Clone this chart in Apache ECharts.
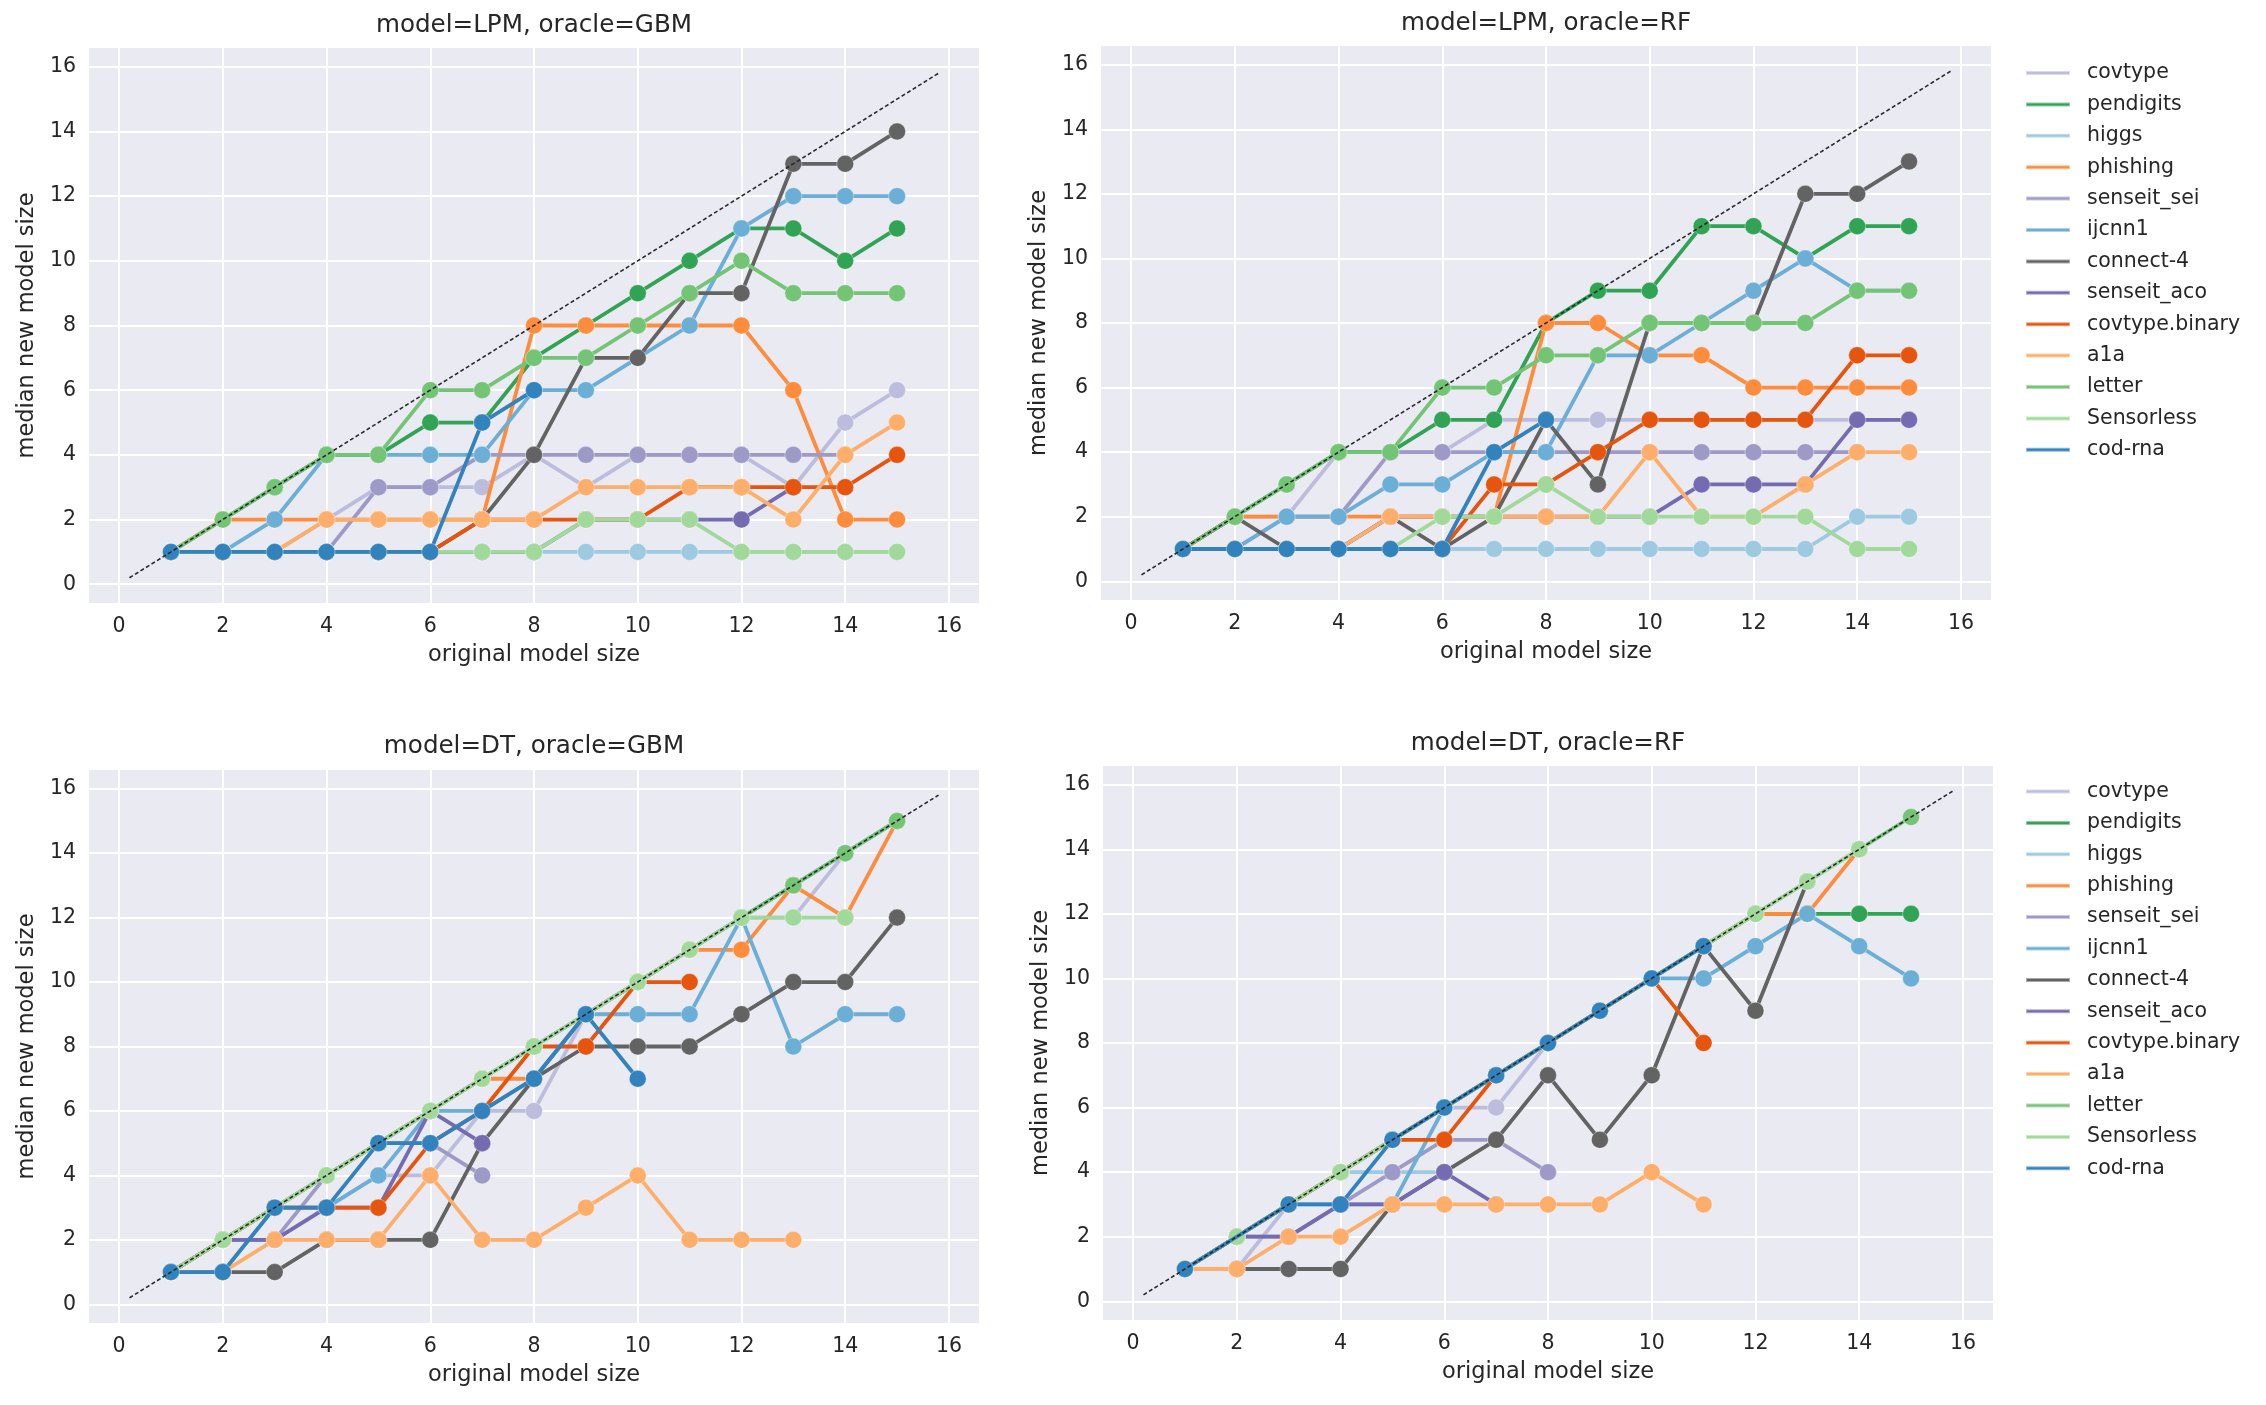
<!DOCTYPE html>
<html><head><meta charset="utf-8">
<script src="https://cdn.jsdelivr.net/npm/echarts@6/dist/echarts.min.js"></script>
<style>html,body{margin:0;padding:0;background:#fff}#c{width:2266px;height:1405px}</style>
</head><body><div id="c"></div>
<script>
// ---------- labels, categories, ticks ----------
const datasetNames = ['covtype','pendigits','higgs','phishing','senseit_sei','ijcnn1','connect-4','senseit_aco','covtype.binary','a1a','letter','Sensorless','cod-rna'];
const datasetColors = ['#bcbddc','#31a354','#9ecae1','#fd8d3c','#9e9ac8','#6baed6','#636363','#756bb1','#e6550d','#fdae6b','#74c476','#a1d99b','#3182bd'];
const originalSizes = [1,2,3,4,5,6,7,8,9,10,11,12,13,14,15];
const tickValues = [0,2,4,6,8,10,12,14,16];
const diagonal = [0.2, 15.8];
const panelTitles = ['model=LPM, oracle=GBM','model=LPM, oracle=RF','model=DT, oracle=GBM','model=DT, oracle=RF'];

// ---------- panel 1: model=LPM, oracle=GBM ----------
const lpmGbm_covtype       = [1,1,1,2,3,3,3,4,3,4,4,4,3,5,6];
const lpmGbm_pendigits     = [1,2,3,4,4,5,5,7,8,9,10,11,11,10,11];
const lpmGbm_higgs         = [1,1,1,1,1,1,1,1,1,1,1,1,1,1,1];
const lpmGbm_phishing      = [1,2,2,2,2,2,2,8,8,8,8,8,6,2,2];
const lpmGbm_senseit_sei   = [1,1,1,1,3,3,4,4,4,4,4,4,4,4];
const lpmGbm_ijcnn1        = [1,1,2,4,4,4,4,6,6,7,8,11,12,12,12];
const lpmGbm_connect4      = [1,1,1,1,1,1,2,4,7,7,9,9,13,13,14];
const lpmGbm_senseit_aco   = [1,1,1,1,1,1,1,1,2,2,2,2,3];
const lpmGbm_covtypeBinary = [1,1,1,1,1,1,2,2,2,2,3,3,3,3,4];
const lpmGbm_a1a           = [1,1,1,2,2,2,2,2,3,3,3,3,2,4,5];
const lpmGbm_letter        = [1,2,3,4,4,6,6,7,7,8,9,10,9,9,9];
const lpmGbm_sensorless    = [1,1,1,1,1,1,1,1,2,2,2,1,1,1,1];
const lpmGbm_codRna        = [1,1,1,1,1,1,5,6];

// ---------- panel 2: model=LPM, oracle=RF ----------
const lpmRf_covtype       = [1,2,2,4,4,4,5,5,5,5,5,5,5,5,5];
const lpmRf_pendigits     = [1,2,3,4,4,5,5,8,9,9,11,11,10,11,11];
const lpmRf_higgs         = [1,1,1,1,1,1,1,1,1,1,1,1,1,2,2];
const lpmRf_phishing      = [1,2,2,2,2,2,2,8,8,7,7,6,6,6,6];
const lpmRf_senseit_sei   = [1,1,2,2,4,4,4,4,4,4,4,4,4,4];
const lpmRf_ijcnn1        = [1,1,2,2,3,3,4,4,7,7,8,9,10,9,9];
const lpmRf_connect4      = [1,2,1,1,2,1,2,5,3,8,8,8,12,12,13];
const lpmRf_senseit_aco   = [1,1,1,1,2,2,2,2,2,2,3,3,3,5,5];
const lpmRf_covtypeBinary = [1,1,1,1,1,1,3,3,4,5,5,5,5,7,7];
const lpmRf_a1a           = [1,1,1,1,2,2,2,2,2,4,2,2,3,4,4];
const lpmRf_letter        = [1,2,3,4,4,6,6,7,7,8,8,8,8,9,9];
const lpmRf_sensorless    = [1,1,1,1,1,2,2,3,2,2,2,2,2,1,1];
const lpmRf_codRna        = [1,1,1,1,1,1,4,5];

// ---------- panel 3: model=DT, oracle=GBM ----------
const dtGbm_covtype       = [1,2,2,3,4,4,6,6,9,10,11,12,12,14];
const dtGbm_pendigits     = [1,2,3,4,5,6,7,8,9,10,11,12,13,14,15];
const dtGbm_higgs         = [1,2,3,4,5,6,7,8,9,10,11,12,13,14,15];
const dtGbm_phishing      = [1,2,3,4,5,6,7,7,9,10,11,11,13,12,15];
const dtGbm_senseit_sei   = [1,2,2,4,5,5,4];
const dtGbm_ijcnn1        = [1,1,3,3,4,6,6,7,9,9,9,12,8,9,9];
const dtGbm_connect4      = [1,1,1,2,2,2,5,7,8,8,8,9,10,10,12];
const dtGbm_senseit_aco   = [1,2,2,3,3,6,5];
const dtGbm_covtypeBinary = [1,2,3,3,3,5,6,8,8,10,10];
const dtGbm_a1a           = [1,1,2,2,2,4,2,2,3,4,2,2,2];
const dtGbm_letter        = [1,2,3,4,5,6,7,8,9,10,11,12,13,14,15];
const dtGbm_sensorless    = [1,2,3,4,5,6,7,8,9,10,11,12,12,12];
const dtGbm_codRna        = [1,1,3,3,5,5,6,7,9,7];

// ---------- panel 4: model=DT, oracle=RF ----------
const dtRf_covtype       = [1,1,3,4,5,6,6,8];
const dtRf_pendigits     = [1,2,3,4,5,6,7,8,9,10,11,12,12,12,12];
const dtRf_higgs         = [1,2,3,4,4,4];
const dtRf_phishing      = [1,2,3,4,5,6,7,8,9,10,11,12,12,14];
const dtRf_senseit_sei   = [1,2,2,3,4,5,5,4];
const dtRf_ijcnn1        = [1,2,3,3,3,6,7,8,9,10,10,11,12,11,10];
const dtRf_connect4      = [1,1,1,1,3,4,5,7,5,7,11,9,13];
const dtRf_senseit_aco   = [1,2,2,3,3,4,3];
const dtRf_covtypeBinary = [1,2,3,4,5,5,7,8,9,10,8];
const dtRf_a1a           = [1,1,2,2,3,3,3,3,3,4,3];
const dtRf_letter        = [1,2,3,4,5,6,7,8,9,10,11,12,13,14,15];
const dtRf_sensorless    = [1,2,3,4,5,6,7,8,9,10,11,12,13,14];
const dtRf_codRna        = [1,null,3,3,5,6,7,8,9,10,11];

const panelValues = [
  [lpmGbm_covtype,lpmGbm_pendigits,lpmGbm_higgs,lpmGbm_phishing,lpmGbm_senseit_sei,lpmGbm_ijcnn1,lpmGbm_connect4,lpmGbm_senseit_aco,lpmGbm_covtypeBinary,lpmGbm_a1a,lpmGbm_letter,lpmGbm_sensorless,lpmGbm_codRna],
  [lpmRf_covtype,lpmRf_pendigits,lpmRf_higgs,lpmRf_phishing,lpmRf_senseit_sei,lpmRf_ijcnn1,lpmRf_connect4,lpmRf_senseit_aco,lpmRf_covtypeBinary,lpmRf_a1a,lpmRf_letter,lpmRf_sensorless,lpmRf_codRna],
  [dtGbm_covtype,dtGbm_pendigits,dtGbm_higgs,dtGbm_phishing,dtGbm_senseit_sei,dtGbm_ijcnn1,dtGbm_connect4,dtGbm_senseit_aco,dtGbm_covtypeBinary,dtGbm_a1a,dtGbm_letter,dtGbm_sensorless,dtGbm_codRna],
  [dtRf_covtype,dtRf_pendigits,dtRf_higgs,dtRf_phishing,dtRf_senseit_sei,dtRf_ijcnn1,dtRf_connect4,dtRf_senseit_aco,dtRf_covtypeBinary,dtRf_a1a,dtRf_letter,dtRf_sensorless,dtRf_codRna]
];

// ---------- layout ----------
const FONT = 'DejaVu Sans';
const TXT = '#262626';
const grids = [
  {left: 89,  top: 48,  width: 890, height: 555},
  {left: 1101, top: 46, width: 890, height: 554},
  {left: 89,  top: 770, width: 890, height: 553},
  {left: 1103, top: 766, width: 890, height: 554}
];
const titleTops = [13, 11, 734, 731];

const chart = echarts.init(document.getElementById('c'), null, {renderer: 'canvas'});

const option = {
  backgroundColor: '#ffffff',
  animation: false,
  title: grids.map((g, i) => ({
    text: panelTitles[i],
    left: g.left + g.width / 2,
    top: titleTops[i],
    textAlign: 'center',
    padding: 0,
    textStyle: {fontFamily: FONT, fontSize: 24.6, fontWeight: 'normal', color: TXT}
  })),
  grid: grids.map(g => Object.assign({show: true, backgroundColor: '#EAEAF2', borderWidth: 0, containLabel: false}, g)),
  xAxis: grids.map((g, i) => ({
    gridIndex: i, type: 'value', min: -0.58, max: 16.58,
    axisLine: {show: false},
    axisTick: {show: false, customValues: tickValues},
    axisLabel: {customValues: tickValues, margin: 13, fontFamily: FONT, fontSize: 20.5, color: TXT},
    splitLine: {show: true, lineStyle: {color: '#ffffff', width: 2}},
    name: 'original model size', nameLocation: 'middle', nameGap: 41,
    nameTextStyle: {fontFamily: FONT, fontSize: 22.5, color: TXT}
  })),
  yAxis: grids.map((g, i) => ({
    gridIndex: i, type: 'value', min: -0.58, max: 16.58,
    axisLine: {show: false},
    axisTick: {show: false, customValues: tickValues},
    axisLabel: {customValues: tickValues, margin: 13, fontFamily: FONT, fontSize: 20.5, color: TXT},
    splitLine: {show: true, lineStyle: {color: '#ffffff', width: 2}},
    name: 'median new model size', nameLocation: 'middle', nameGap: 50, nameRotate: 90,
    nameTextStyle: {fontFamily: FONT, fontSize: 22.5, color: TXT}
  })),
  legend: [62.5, 781].map(t => ({
    data: datasetNames.map(n => ({name: n, icon: 'rect'})),
    orient: 'vertical', left: 2025, top: t,
    itemWidth: 44, itemHeight: 4, itemGap: 10.4,
    padding: 0,
    textStyle: {fontFamily: FONT, fontSize: 20.5, color: TXT, lineHeight: 21, padding: [0, 0, 0, 12]},
    selectedMode: false
  })),
  series: []
};

panelValues.forEach((vals, p) => {
  vals.forEach((arr, k) => {
    const pts = [];
    arr.forEach((v, i) => { if (v !== null) pts.push([originalSizes[i], v]); });
    option.series.push({
      type: 'line', name: datasetNames[k],
      xAxisIndex: p, yAxisIndex: p,
      data: pts,
      symbol: 'circle', symbolSize: 17, showSymbol: true,
      color: datasetColors[k],
      lineStyle: {width: 3.8, color: datasetColors[k]},
      itemStyle: {color: datasetColors[k], borderColor: 'rgba(255,255,255,0.45)', borderWidth: 0.8},
      z: 2 + k * 0.01,
      silent: true,
      emphasis: {disabled: true},
      clip: false
    });
  });
  option.series.push({
    type: 'line', name: 'diagonal',
    xAxisIndex: p, yAxisIndex: p,
    data: diagonal.map(v => [v, v]),
    symbol: 'none',
    lineStyle: {width: 1.6, color: '#2a2a2a', type: [4, 2.5]},
    z: 5, silent: true, emphasis: {disabled: true}
  });
});

chart.setOption(option);
</script>
</body></html>
